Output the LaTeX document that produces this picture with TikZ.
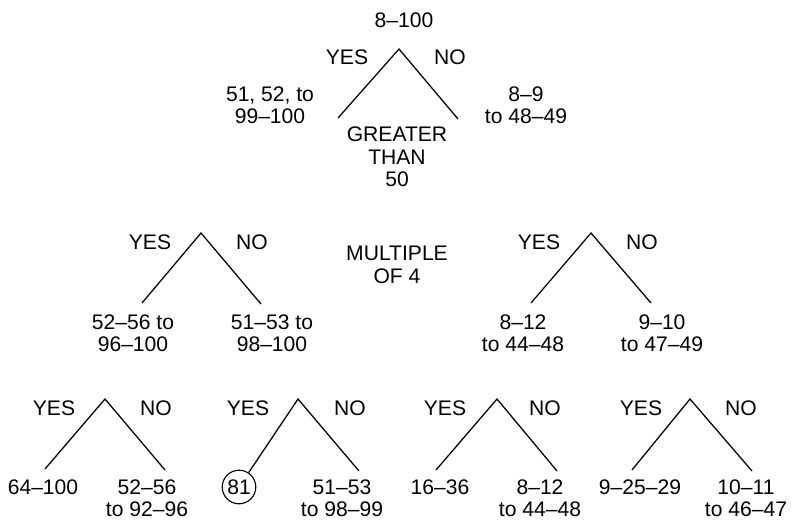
\documentclass[tikz,border=0pt]{standalone}
\usepackage{fontspec}
\setmainfont{Liberation Sans}
\usepackage{tikz}

\begin{document}
\begin{tikzpicture}[x=0.025cm, y=-0.025cm, line width=0.9pt,
  every node/.style={font=\fontsize{15}{16}\selectfont, align=center, inner sep=0pt}]
  \useasboundingbox (0,0) rectangle (794,520);

  % Greater than 50
  \node (all) at (404,20) {8--100};
  \coordinate (top) at (399,49);
  \coordinate (topL) at (338,118);
  \coordinate (topR) at (458,119);
  \node (topyes) at (347,57) {YES};
  \node (topno) at (450,57) {NO};
  \node (big) at (270,105) {51, 52, to\\99--100};
  \node (small) at (526,105) {8--9\\to 48--49};
  \node (gt) at (397,157) {GREATER\\THAN\\50};
  \draw (topL) -- (top) -- (topR);

  % Multiple of 4
  \node (mult) at (397,265) {MULTIPLE\\OF 4};
  \coordinate (bigtop) at (201,233);
  \coordinate (bigL) at (142,303);
  \coordinate (bigR) at (261,304);
  \node (bigyes) at (150,242) {YES};
  \node (bigno) at (252,242) {NO};
  \node (bigmult) at (133,333) {52--56 to\\96--100};
  \node (bigodd) at (272,333) {51--53 to\\98--100};
  \draw (bigL) -- (bigtop) -- (bigR);

  \coordinate (smalltop) at (591,233);
  \coordinate (smallL) at (531,303);
  \coordinate (smallR) at (651,303);
  \node (smallyes) at (539,242) {YES};
  \node (smallno) at (642,242) {NO};
  \node (smallmult) at (523,333) {8--12\\to 44--48};
  \node (smallodd) at (662,333) {9--10\\to 47--49};
  \draw (smallL) -- (smalltop) -- (smallR);

  % Third question
  \coordinate (t1) at (105,399);
  \coordinate (t1L) at (45,469);
  \coordinate (t1R) at (165,470);
  \node (t1yes) at (54,408) {YES};
  \node (t1no) at (156,408) {NO};
  \node (t1a) at (43,487) {64--100};
  \node (t1b) at (147,498) {52--56\\to 92--96};
  \draw (t1L) -- (t1) -- (t1R);

  \coordinate (t2) at (298,399);
  \coordinate (t2R) at (359,471);
  \node (t2yes) at (248,408) {YES};
  \node (t2no) at (350,408) {NO};
  \node[circle, draw, line width=0.8pt, inner sep=1.5pt] (c81) at (239,487) {81};
  \node (t2b) at (342,498) {51--53\\to 98--99};
  \draw (c81) -- (t2) -- (t2R);

  \coordinate (t3) at (497,399);
  \coordinate (t3L) at (436,470);
  \coordinate (t3R) at (557,471);
  \node (t3yes) at (445,408) {YES};
  \node (t3no) at (545,408) {NO};
  \node (t3a) at (440,487) {16--36};
  \node (t3b) at (540,498) {8--12\\to 44--48};
  \draw (t3L) -- (t3) -- (t3R);

  \coordinate (t4) at (690,399);
  \coordinate (t4L) at (632,470);
  \coordinate (t4R) at (752,471);
  \node (t4yes) at (641,408) {YES};
  \node (t4no) at (741,408) {NO};
  \node (t4a) at (640,487) {9--25--29};
  \node (t4b) at (746,498) {10--11\\to 46--47};
  \draw (t4L) -- (t4) -- (t4R);
\end{tikzpicture}
\end{document}
